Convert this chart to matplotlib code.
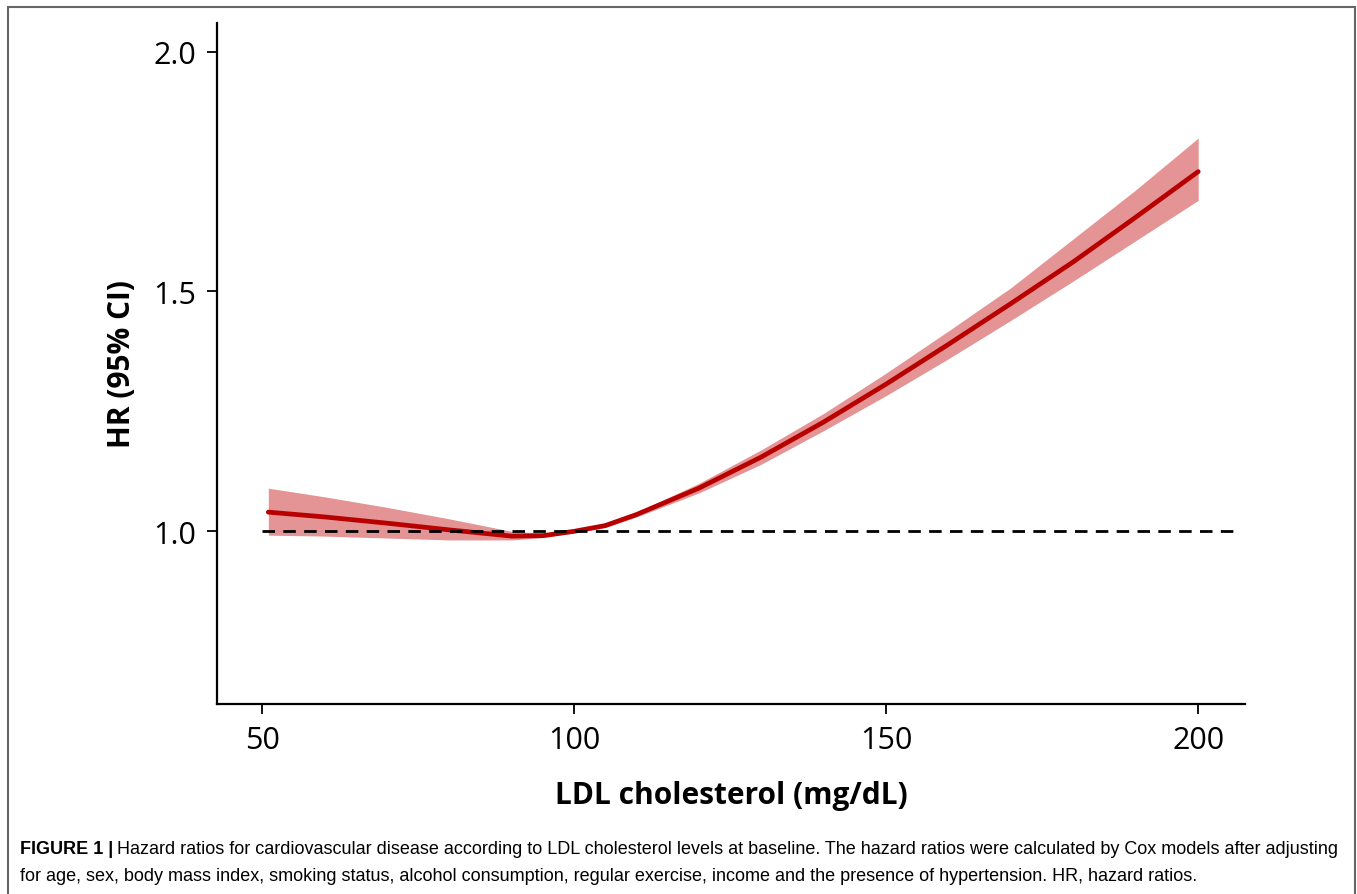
import numpy as np
import matplotlib.pyplot as plt
from matplotlib.patches import Rectangle

# Data
ldl = [51, 60, 70, 80, 90, 95, 100, 105, 110, 120, 130, 140, 150, 160, 170, 180, 190, 200]
hr = [1.04, 1.03, 1.017, 1.003, 0.99, 0.991, 1.0, 1.012, 1.035, 1.09, 1.155, 1.228, 1.307, 1.39, 1.475, 1.562, 1.655, 1.75]
hr_low = [0.992, 0.99, 0.986, 0.982, 0.982, 0.987, 0.997, 1.008, 1.03, 1.08, 1.14, 1.21, 1.283, 1.36, 1.44, 1.522, 1.606, 1.69]
hr_high = [1.09, 1.072, 1.05, 1.026, 1.0, 0.996, 1.003, 1.016, 1.04, 1.1, 1.17, 1.246, 1.33, 1.418, 1.508, 1.61, 1.712, 1.82]
xticks = [50, 100, 150, 200]
yticks = [1.0, 1.5, 2.0]

fig = plt.figure(figsize=(13.57, 8.95), dpi=100)
ax = fig.add_axes([0.16, 0.2123, 0.7575, 0.761])

ax.fill_between(ldl, hr_low, hr_high, color='#c00000', alpha=0.42, linewidth=0)
ax.plot(ldl, hr, color='#b80000', linewidth=3.4, solid_capstyle='round')
ax.plot([50, 206.5], [1.0, 1.0], color='black', linestyle=(0, (4.5, 3)), linewidth=2.0)

ax.set_xlim(42.8, 207.5)
ax.set_ylim(0.64, 2.06)
ax.set_xticks(xticks)
ax.set_xticklabels([str(t) for t in xticks])
ax.set_yticks(yticks)
ax.set_yticklabels(['%.1f' % t for t in yticks])
for s in ['top', 'right']:
    ax.spines[s].set_visible(False)
for s in ['left', 'bottom']:
    ax.spines[s].set_linewidth(1.6)
ax.tick_params(length=7, width=1.3, labelsize=22, pad=8)
for lab in ax.get_xticklabels() + ax.get_yticklabels():
    lab.set_fontfamily('Open Sans')

ax.set_xlabel('LDL cholesterol (mg/dL)', fontsize=21.5, fontweight='bold', family='Open Sans', labelpad=18)
ax.set_ylabel('HR (95% CI)', fontsize=21.5, fontweight='bold', family='Open Sans', labelpad=12)

# outer frame
fig.patches.append(Rectangle((8 / 1357, -0.01), 1347 / 1357, 1 - 8 / 895 + 0.01,
                             transform=fig.transFigure, fill=False,
                             edgecolor='#666666', linewidth=1.5))

# caption
cap_font = 'Liberation Sans'
cap_size = 13.0
x0 = 20 / 1357
y1 = 1 - 850 / 895
y2 = 1 - 877 / 895
t = fig.text(x0, y1, 'FIGURE 1 |', fontsize=cap_size, fontweight='bold', family=cap_font, va='center')
fig.canvas.draw()
bb = t.get_window_extent()
fig.text(bb.x1 / 1357 + 0.003, y1,
         'Hazard ratios for cardiovascular disease according to LDL cholesterol levels at baseline. '
         'The hazard ratios were calculated by Cox models after adjusting',
         fontsize=cap_size, family=cap_font, va='center')
fig.text(x0, y2,
         'for age, sex, body mass index, smoking status, alcohol consumption, regular exercise, '
         'income and the presence of hypertension. HR, hazard ratios.',
         fontsize=cap_size, family=cap_font, va='center')

fig.savefig('out.png', dpi=100)
